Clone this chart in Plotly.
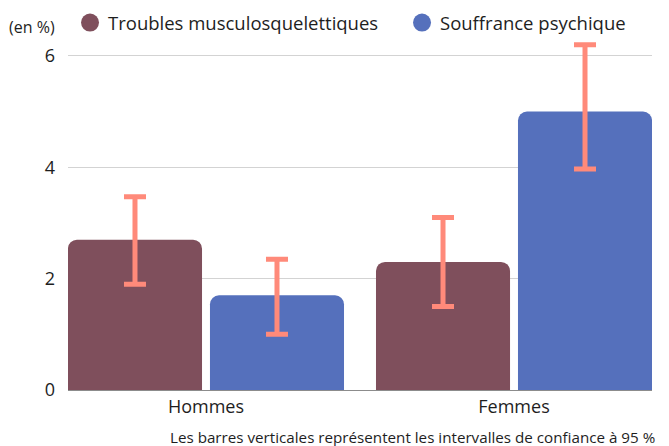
import plotly.graph_objects as go

# données
groupes = ["Hommes", "Femmes"]
series = ["Troubles musculosquelettiques", "Souffrance psychique"]
valeurs_tms = [2.7, 2.3]
valeurs_psy = [1.7, 5.0]
ic_bas_tms = [1.9, 1.5]
ic_haut_tms = [3.47, 3.1]
ic_bas_psy = [1.0, 3.97]
ic_haut_psy = [2.35, 6.2]
couleurs = ["#7f4f5c", "#5570bc"]
couleur_ic = "#ff8a7a"
police = "Open Sans"

fig = go.Figure()

donnees = [
    (valeurs_tms, ic_bas_tms, ic_haut_tms),
    (valeurs_psy, ic_bas_psy, ic_haut_psy),
]
for nom, couleur, (vals, bas, haut) in zip(series, couleurs, donnees):
    fig.add_trace(go.Bar(
        x=groupes, y=vals, name=nom, showlegend=False,
        marker=dict(color=couleur, line=dict(width=0), cornerradius=9),
        error_y=dict(
            type="data", symmetric=False,
            array=[h - v for h, v in zip(haut, vals)],
            arrayminus=[v - b for b, v in zip(bas, vals)],
            color=couleur_ic, thickness=5, width=11,
        ),
        hoverinfo="skip",
    ))

# légende faite à la main (ronds + textes), en coordonnées papier
leg_x_rond = [0.0377, 0.6062]
leg_x_texte = [0.0650, 0.6330]
leg_y = 1.056
formes = []
annotations = []
for nom, couleur, xr, xt in zip(series, couleurs, leg_x_rond, leg_x_texte):
    formes.append(dict(
        type="circle", xref="paper", yref="paper",
        x0=xr - 0.0154, x1=xr + 0.0154, y0=leg_y - 0.0259, y1=leg_y + 0.0259,
        fillcolor=couleur, line=dict(width=0),
    ))
    annotations.append(dict(
        text=nom, x=xt, xanchor="left", y=leg_y, yanchor="middle",
        xref="paper", yref="paper", showarrow=False, font=dict(size=18.5),
    ))

annotations += [
    dict(text="(en %)", x=-0.105, xanchor="left", y=1.043, yanchor="middle",
         xref="paper", yref="paper", showarrow=False, font=dict(size=16)),
    dict(text="Les barres verticales représentent les intervalles de confiance à 95 %",
         x=1.0086, xanchor="right", y=-0.135, yanchor="middle",
         xref="paper", yref="paper", showarrow=False, font=dict(size=15.2)),
]

fig.update_layout(
    width=669, height=446,
    margin=dict(l=68, r=17, t=42, b=56),
    paper_bgcolor="white", plot_bgcolor="white",
    font=dict(family=police, size=18, color="#1e1e1e"),
    barmode="group", bargap=0.078, bargroupgap=0.056,
    showlegend=False,
    xaxis=dict(
        type="category", range=[-0.448, 1.448], showgrid=False,
        showline=True, linecolor="#8c8c8c", linewidth=1,
        tickfont=dict(size=18), ticks="", ticklabelstandoff=0,
    ),
    yaxis=dict(
        range=[0, 6.25], tickvals=[0, 2, 4, 6],
        showgrid=True, gridcolor="#d3d3d3", gridwidth=1,
        zeroline=False, showline=False,
        tickfont=dict(size=18), ticklabelstandoff=12,
    ),
    shapes=formes,
    annotations=annotations,
)

# la page html ajoute une marge de 8 px au corps : on la retire
fig.write_html(
    "out.html",
    config={"displayModeBar": False},
    post_script="document.body.style.margin='0';",
)
